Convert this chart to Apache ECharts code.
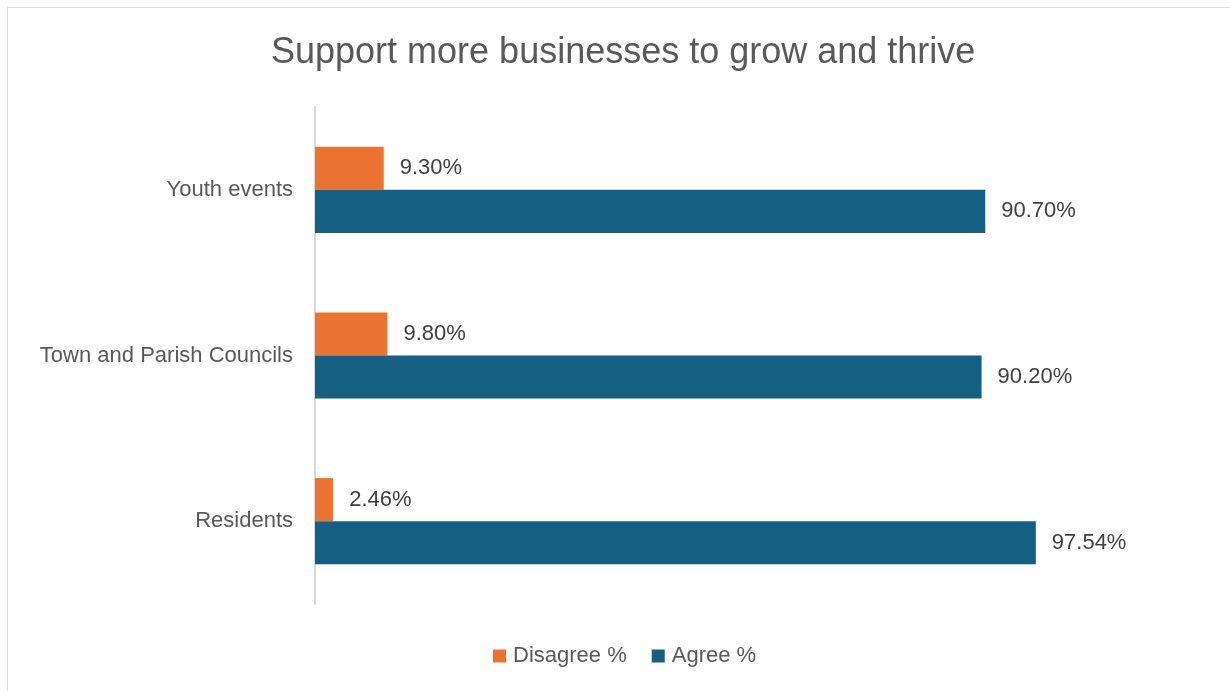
<!DOCTYPE html>
<html>
<head>
<meta charset="utf-8">
<script src="https://cdn.jsdelivr.net/npm/echarts@6/dist/echarts.min.js"></script>
<style>
html,body{margin:0;padding:0;background:#fff;}
#chart{width:1230px;height:691px;}
</style>
</head>
<body>
<div id="chart"></div>
<script>
const categories = ['Residents', 'Town and Parish Councils', 'Youth events'];
const seriesNames = ['Disagree %', 'Agree %'];
const disagree = [2.46, 9.80, 9.30];
const agree = [97.54, 90.20, 90.70];

const chart = echarts.init(document.getElementById('chart'));
const labelFont = 'Liberation Sans, Arial, sans-serif';
chart.setOption({
  backgroundColor: '#ffffff',
  animation: false,
  graphic: [{
    type: 'rect',
    shape: {x: 7.5, y: 7.5, width: 1230, height: 700},
    style: {fill: 'none', stroke: '#d9d9d9', lineWidth: 1},
    silent: true
  }],
  title: {
    text: 'Support more businesses to grow and thrive',
    left: 266,
    top: 30,
    textStyle: {
      fontFamily: 'Liberation Sans, Arial, sans-serif',
      fontSize: 36,
      fontWeight: 'normal',
      color: '#595959'
    }
  },
  legend: {
    data: seriesNames,
    bottom: 19,
    left: 488,
    itemWidth: 13,
    itemHeight: 13,
    itemGap: 25,
    icon: 'rect',
    textStyle: {fontFamily: labelFont, fontSize: 22, color: '#595959', padding: [0, 0, 0, 2]}
  },
  grid: {left: 315, right: 176, top: 107, bottom: 87, containLabel: false},
  xAxis: {
    type: 'value',
    min: 0,
    max: 100,
    show: false
  },
  yAxis: {
    type: 'category',
    data: categories,
    axisLine: {show: true, lineStyle: {color: '#d9d9d9', width: 2}},
    axisTick: {show: false},
    axisLabel: {fontFamily: labelFont, fontSize: 22, color: '#595959', margin: 22}
  },
  series: [
    {
      name: seriesNames[0],
      type: 'bar',
      data: disagree,
      barGap: '0%',
      barCategoryGap: '48%',
      itemStyle: {color: '#eb7332'},
      label: {
        show: true, position: 'right', distance: 16,
        fontFamily: labelFont, fontSize: 22, color: '#404040',
        formatter: p => p.value.toFixed(2) + '%'
      }
    },
    {
      name: seriesNames[1],
      type: 'bar',
      data: agree,
      barGap: '0%',
      barCategoryGap: '48%',
      itemStyle: {color: '#155f82'},
      label: {
        show: true, position: 'right', distance: 16,
        fontFamily: labelFont, fontSize: 22, color: '#404040',
        formatter: p => p.value.toFixed(2) + '%'
      }
    }
  ]
});
</script>
</body>
</html>
